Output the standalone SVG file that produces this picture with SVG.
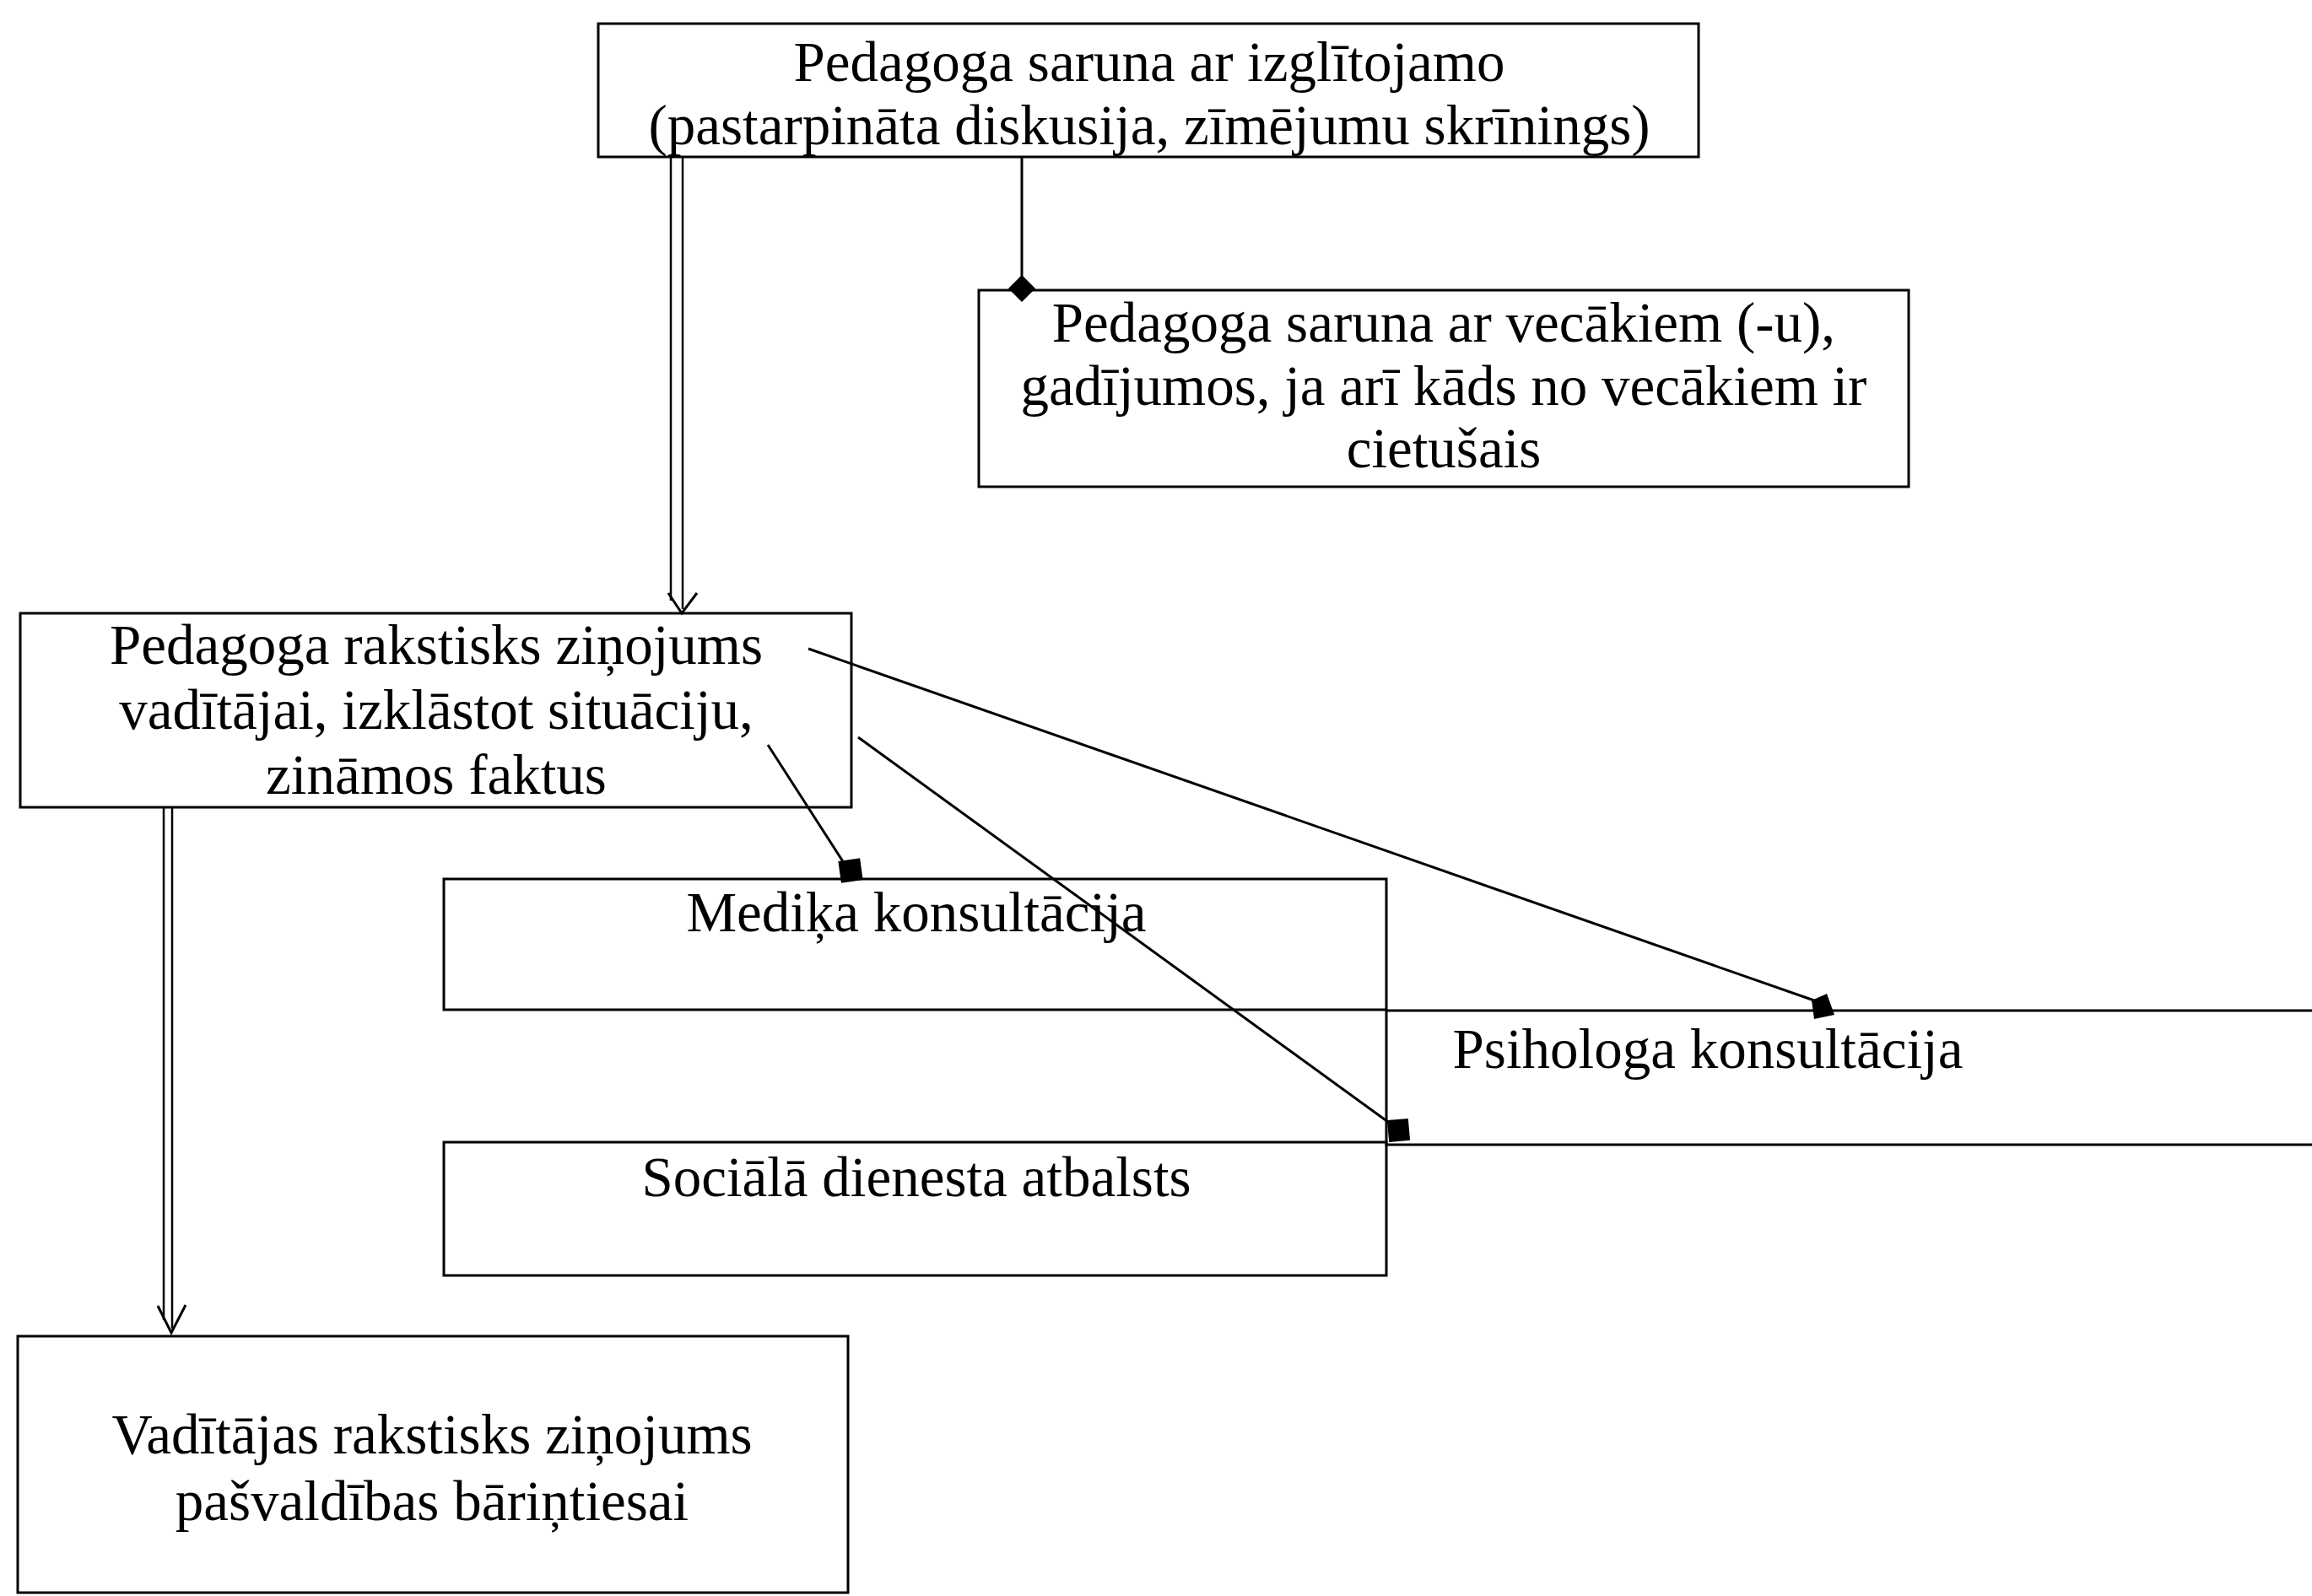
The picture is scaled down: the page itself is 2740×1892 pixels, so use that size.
<svg xmlns="http://www.w3.org/2000/svg" width="2740" height="1892" viewBox="0 0 2740 1892">
<style>
.box{fill:none;stroke:#000;stroke-width:3}
.t{font-family:"Liberation Serif","Times New Roman",serif;font-size:67px;fill:#000;text-anchor:middle}
.c{fill:none;stroke:#000;stroke-width:3}
.d{fill:none;stroke:#000;stroke-width:2.5}
.m{fill:#000;stroke:none}
</style>
<rect width="2740" height="1892" fill="#fff"/>
<g id="n1">
<rect class="box" x="709" y="28" width="1304" height="158"/>
<text class="t" x="1362" y="96">Pedagoga saruna ar izglītojamo</text>
<text class="t" x="1362" y="171">(pastarpināta diskusija, zīmējumu skrīnings)</text>
</g>
<g id="n2">
<rect class="box" x="1160" y="344" width="1102" height="233"/>
<text class="t" x="1711" y="405">Pedagoga saruna ar vecākiem (-u),</text>
<text class="t" x="1711" y="480">gadījumos, ja arī kāds no vecākiem ir</text>
<text class="t" x="1711" y="554">cietušais</text>
</g>
<g id="n3">
<rect class="box" x="24" y="727" width="985" height="230"/>
<text class="t" x="517" y="787">Pedagoga rakstisks ziņojums</text>
<text class="t" x="517" y="864">vadītājai, izklāstot situāciju,</text>
<text class="t" x="517" y="941">zināmos faktus</text>
</g>
<g id="n4">
<rect class="box" x="526" y="1042" width="1117" height="155"/>
<text class="t" x="1086" y="1104">Mediķa konsultācija</text>
</g>
<g id="n5">
<rect class="box" x="1643" y="1198" width="1200" height="159"/>
<text class="t" x="2024" y="1266">Psihologa konsultācija</text>
</g>
<g id="n6">
<rect class="box" x="526" y="1354" width="1117" height="158"/>
<text class="t" x="1086" y="1418">Sociālā dienesta atbalsts</text>
</g>
<g id="n7">
<rect class="box" x="21" y="1584" width="984" height="304"/>
<text class="t" x="512" y="1723">Vadītājas rakstisks ziņojums</text>
<text class="t" x="512" y="1802">pašvaldības bāriņtiesai</text>
</g>
<g id="connectors">
<line class="c" x1="1211" y1="186" x2="1211" y2="330"/>
<polygon class="m" points="1211,326 1227,342 1211,358 1195,342"/>
<line class="d" x1="795" y1="186" x2="795" y2="712"/>
<line class="d" x1="809" y1="186" x2="809" y2="722"/>
<polyline class="c" points="792,703 808,727 826,703"/>
<line class="d" x1="194" y1="957" x2="194" y2="1565"/>
<line class="d" x1="204" y1="957" x2="204" y2="1575"/>
<polyline class="c" points="187,1548 203,1580 220,1547"/>
<line class="c" x1="910" y1="883" x2="1002" y2="1026"/>
<rect class="m" x="995" y="1019" width="26" height="26" transform="rotate(-8 1008 1032)"/>
<line class="c" x1="1017" y1="874" x2="1645" y2="1330"/>
<rect class="m" x="1645" y="1327" width="25" height="26" transform="rotate(-5 1657 1340)"/>
<line class="c" x1="958" y1="769" x2="2150" y2="1186"/>
<polygon class="m" points="2147,1186 2165,1178 2174,1203 2150,1208"/>
</g>
</svg>
